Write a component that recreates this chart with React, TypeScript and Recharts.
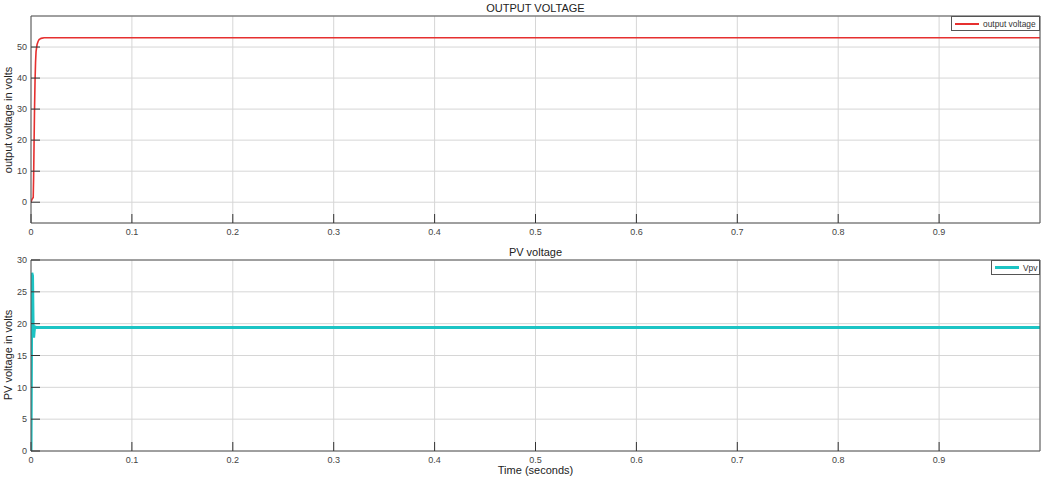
import React from 'react';
import { LineChart, Line, XAxis, YAxis, CartesianGrid } from 'recharts';

// ---- data ----
const outputTime = [0, 0.0008, 0.0015, 0.0022, 0.0026, 0.003, 0.0035, 0.004, 0.0045, 0.005, 0.006, 0.007, 0.008, 0.01, 0.013, 0.02, 0.1, 0.3, 0.5, 0.7, 0.9, 1.0];
const outputVoltage = [0, 0.8, 1.2, 1.5, 8, 18, 30, 39, 45, 48.5, 50.8, 51.8, 52.4, 52.8, 53, 53, 53, 53, 53, 53, 53, 53];

const pvTime = [0, 0.0004, 0.0008, 0.0015, 0.0021, 0.0026, 0.003, 0.0036, 0.005, 0.02, 0.1, 0.3, 0.5, 0.7, 0.9, 1.0];
const pvVoltage = [0, 14, 28, 27.5, 19.6, 17.8, 18.6, 19.5, 19.4, 19.4, 19.4, 19.4, 19.4, 19.4, 19.4, 19.4];

const xTicks = [0, 0.1, 0.2, 0.3, 0.4, 0.5, 0.6, 0.7, 0.8, 0.9];
const topYTicks = [0, 10, 20, 30, 40, 50];
const bottomYTicks = [0, 5, 10, 15, 20, 25, 30];

const topRows = outputTime.map((t, i) => ({ t, v: outputVoltage[i] }));
const bottomRows = pvTime.map((t, i) => ({ t, v: pvVoltage[i] }));

const FONT = '"Liberation Sans", Arial, Helvetica, sans-serif';
const AXIS_COLOR = '#555555';
const GRID_COLOR = '#d6d6d6';
const TICK_TEXT = { fill: '#444444', fontSize: 9, fontFamily: FONT };
const RED = '#e6302f';
const CYAN = '#1cc4c4';

function fmtX(v: number) {
  return v === 0 ? '0' : String(Math.round(v * 10) / 10);
}

function Panel({ rows, yDomain, yTicks, color, width, height, margin }: any) {
  return (
    <LineChart width={1045} height={height} data={rows} margin={margin}>
      <CartesianGrid stroke={GRID_COLOR} strokeWidth={1} />
      <XAxis
        dataKey="t"
        type="number"
        domain={[0, 1]}
        ticks={xTicks}
        tickFormatter={fmtX}
        height={1}
        interval={0}
        stroke={AXIS_COLOR}
        tickSize={-9}
        tickMargin={15}
        tick={TICK_TEXT}
        tickLine={{ stroke: '#333' }}
        allowDataOverflow
      />
      <XAxis
        xAxisId="top"
        orientation="top"
        type="number"
        domain={[0, 1]}
        ticks={xTicks}
        height={1}
        interval={0}
        stroke={AXIS_COLOR}
        tickSize={-9}
        tick={false}
        tickLine={{ stroke: '#333' }}
        allowDataOverflow
      />
      <YAxis
        type="number"
        domain={yDomain}
        ticks={yTicks}
        width={1}
        interval={0}
        stroke={AXIS_COLOR}
        tickSize={-9}
        tickMargin={13}
        tick={TICK_TEXT}
        tickLine={{ stroke: '#333' }}
        allowDataOverflow
      />
      <YAxis
        yAxisId="r"
        orientation="right"
        type="number"
        domain={yDomain}
        ticks={yTicks}
        width={1}
        interval={0}
        stroke={AXIS_COLOR}
        tickSize={-9}
        tick={false}
        tickLine={{ stroke: '#333' }}
        allowDataOverflow
      />
      <Line
        type="linear"
        dataKey="v"
        stroke={color}
        strokeWidth={width}
        dot={false}
        activeDot={false}
        isAnimationActive={false}
      />
    </LineChart>
  );
}

function LegendBox({ left, top, w, h, color, lineW, label }: any) {
  return (
    <div
      style={{
        position: 'absolute',
        left,
        top,
        width: w,
        height: h,
        boxSizing: 'border-box',
        border: '1px solid #555',
        background: '#fff',
        display: 'flex',
        alignItems: 'center',
        fontFamily: FONT,
        fontSize: 8.4,
        color: '#333',
        whiteSpace: 'nowrap',
        overflow: 'hidden',
      }}
    >
      <div style={{ width: 24, height: lineW, background: color, marginLeft: 3, marginRight: 4, flexShrink: 0 }} />
      <span>{label}</span>
    </div>
  );
}

const textStyle: React.CSSProperties = {
  position: 'absolute',
  fontFamily: FONT,
  fontSize: 11,
  color: '#222',
  whiteSpace: 'nowrap',
  lineHeight: '13px',
};

export default function App() {
  return (
    <div style={{ position: 'absolute', left: 0, top: 0, width: 1045, height: 484, background: '#fff', overflow: 'hidden' }}>
      <div style={{ position: 'absolute', left: 0, top: 0 }}>
        <Panel
          rows={topRows}
          yDomain={[-6.7, 60]}
          yTicks={topYTicks}
          color={RED}
          width={1.6}
          height={240}
          margin={{ top: 15, right: 4, left: 30, bottom: 16 }}
        />
      </div>
      <div style={{ position: 'absolute', left: 0, top: 240 }}>
        <Panel
          rows={bottomRows}
          yDomain={[0, 30]}
          yTicks={bottomYTicks}
          color={CYAN}
          width={3}
          height={244}
          margin={{ top: 19, right: 4, left: 30, bottom: 32 }}
        />
      </div>

      <div style={{ ...textStyle, left: 0, width: 1071, top: 2, textAlign: 'center' }}>OUTPUT VOLTAGE</div>
      <div style={{ ...textStyle, left: 0, width: 1071, top: 246, textAlign: 'center' }}>PV voltage</div>
      <div style={{ ...textStyle, left: 0, width: 1071, top: 464, textAlign: 'center' }}>Time (seconds)</div>

      <div
        style={{
          ...textStyle,
          left: 8,
          top: 120,
          transform: 'translate(-50%, -50%) rotate(-90deg)',
        }}
      >
        output voltage in volts
      </div>
      <div
        style={{
          ...textStyle,
          left: 8,
          top: 355,
          transform: 'translate(-50%, -50%) rotate(-90deg)',
        }}
      >
        PV voltage in volts
      </div>

      <LegendBox left={951} top={16} w={89} h={15} color={RED} lineW={2} label="output voltage" />
      <LegendBox left={991} top={260} w={49} h={15} color={CYAN} lineW={2.5} label="Vpv" />
    </div>
  );
}
